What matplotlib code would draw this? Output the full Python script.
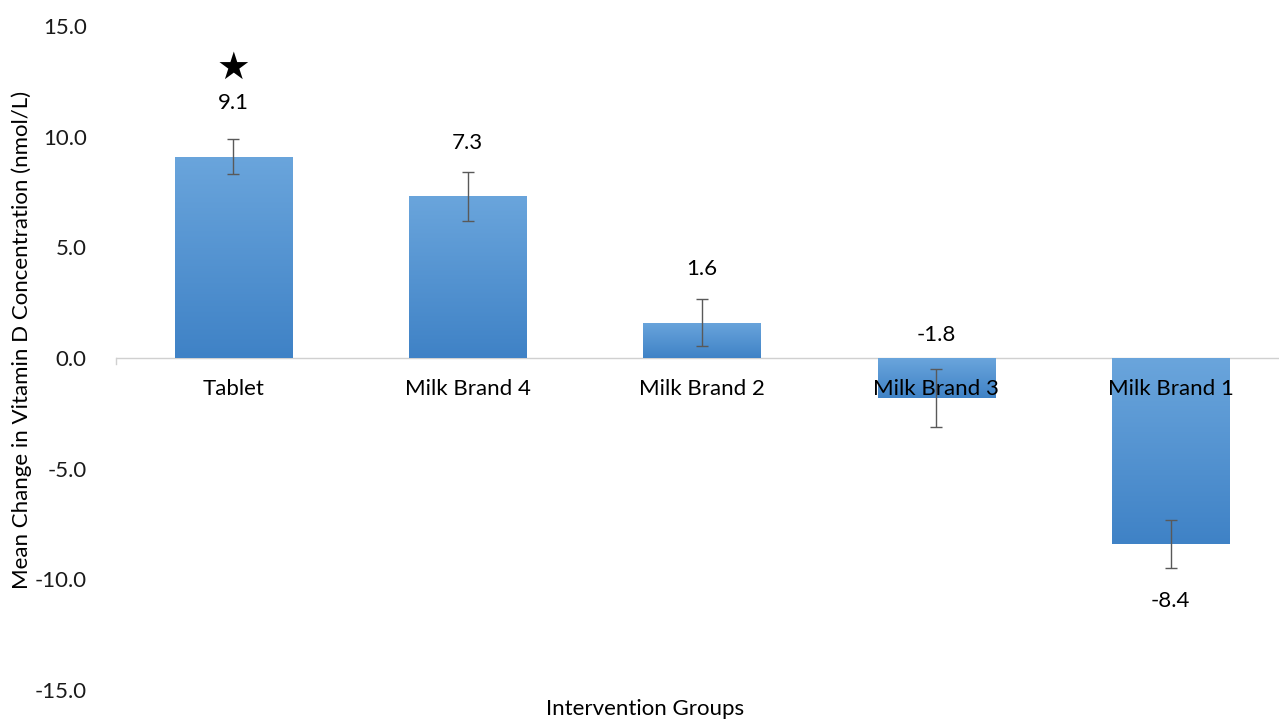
import numpy as np
import matplotlib.pyplot as plt
from matplotlib.colors import LinearSegmentedColormap

plt.rcParams['font.family'] = ['Lato', 'DejaVu Sans']

groups = ['Tablet', 'Milk Brand 4', 'Milk Brand 2', 'Milk Brand 3', 'Milk Brand 1']
means = [9.1, 7.3, 1.6, -1.8, -8.4]
errs = [0.8, 1.1, 1.05, 1.3, 1.1]
star_group = 'Tablet'

fs = 16
fig = plt.figure(figsize=(12.79, 7.19), dpi=100)
ax = fig.add_axes([116 / 1279, 29 / 719, 1172 / 1279, 664 / 719])

x = np.arange(len(groups))
bars = ax.bar(x, means, width=0.5, color='none', edgecolor='none', zorder=2)

# gradient fill, light at top, darker at bottom
cmap = LinearSegmentedColormap.from_list('blu', ['#6aa5dc', '#3f82c6'])
grad = np.linspace(0, 1, 256).reshape(-1, 1)
for b in bars:
    x0, y0 = b.get_x(), b.get_y()
    w, h = b.get_width(), b.get_height()
    lo, hi = min(y0, y0 + h), max(y0, y0 + h)
    im = ax.imshow(grad, cmap=cmap, aspect='auto', extent=[x0, x0 + w, lo, hi],
                   origin='upper', zorder=2)
    im.set_clip_path(b)

ax.errorbar(x, means, yerr=errs, fmt='none', ecolor='#595959', elinewidth=1,
            capsize=4, capthick=1, zorder=3)

for xi, m in zip(x, means):
    if m >= 0:
        ax.text(xi, m + 2.4, f'{m:.1f}', ha='center', va='center', fontsize=fs)
    elif m > -5:
        ax.text(xi, 1.05, f'{m:.1f}', ha='center', va='center', fontsize=fs)
    else:
        ax.text(xi, m - 2.6, f'{m:.1f}', ha='center', va='center', fontsize=fs)

si = groups.index(star_group)
ax.text(si, means[si] + 3.95, '\u2605', ha='center', va='center', fontsize=27,
        family=['DejaVu Sans'])

ax.set_xlim(-0.5, len(groups) - 0.5)
ax.set_ylim(-15, 15)
ax.set_yticks(np.arange(-15, 16, 5))
ax.set_yticklabels([f'{v:.1f}' for v in np.arange(-15, 16, 5)], fontsize=fs)
ax.tick_params(axis='y', length=0, pad=21, labelcolor='#1a1a1a')
ax.set_xticks([])

for s in ax.spines.values():
    s.set_visible(False)
ax.axhline(0, color='#d0d0d0', lw=1, zorder=1)
ax.plot([-0.5, -0.5], [0, -0.25], color='#d0d0d0', lw=1, clip_on=False)

for xi, g in zip(x, groups):
    ax.text(xi, -1.4, g, ha='center', va='center', fontsize=fs, zorder=4)

fig.text(22 / 1279, 1 - 340 / 719, 'Mean Change in Vitamin D Concentration (nmol/L)',
         rotation=90, ha='center', va='center', fontsize=fs)
fig.text(645 / 1279, 1 - 709 / 719, 'Intervention Groups', ha='center', va='center',
         fontsize=fs)

fig.savefig('out.png', dpi=100)
